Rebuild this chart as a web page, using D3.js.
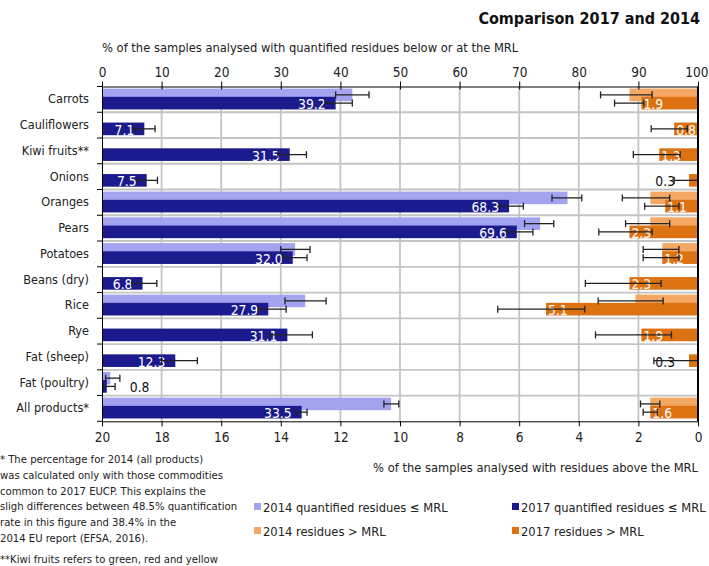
<!DOCTYPE html>
<html>
<head>
<meta charset="utf-8">
<script src="https://cdn.jsdelivr.net/npm/d3@7"></script>
<style>
  html, body { margin: 0; padding: 0; background: #fff; }
  svg { display: block; font-family: "DejaVu Sans Condensed", "DejaVu Sans", sans-serif; }
</style>
</head>
<body>
<svg id="chart" width="709" height="566"></svg>
<script>
// ---------- data ----------
const categories = ["Carrots","Cauliflowers","Kiwi fruits**","Onions","Oranges","Pears","Potatoes","Beans (dry)","Rice","Rye","Fat (sheep)","Fat (poultry)","All products*"];

// % of samples with quantified residues <= MRL
const q2014     = [42.0, null, null, null, 78.1, 73.5, 32.4, null, 34.1, null, null, 1.4, 48.5];
const q2014Low  = [39.2, null, null, null, 75.5, 70.9, 30.0, null, 30.7, null, null, 0.6, 47.3];
const q2014High = [44.8, null, null, null, 80.5, 75.8, 34.9, null, 37.6, null, null, 3.0, 49.8];
const q2017     = [39.2, 7.1, 31.5, 7.5, 68.3, 69.6, 32.0, 6.8, 27.9, 31.1, 12.3, 0.8, 33.5];
const q2017Low  = [37.4, 5.4, 29.5, 5.9, 66.7, 67.9, 30.3, 5.0, 26.2, 28.2, 10.0, 0.2, 32.6];
const q2017High = [42.0, 8.9, 34.3, 9.3, 70.7, 72.3, 34.4, 9.2, 30.9, 35.3, 16.0, 2.2, 34.4];

// % of samples with residues > MRL
const m2014     = [2.3, null, null, null, 1.6, 1.6, 1.2, null, 2.1, null, null, null, 1.6];
const m2014Low  = [1.54, null, null, null, 0.95, 0.95, 0.64, null, 1.17, null, null, null, 1.28];
const m2014High = [3.27, null, null, null, 2.54, 2.43, 1.84, null, 3.35, null, null, null, 1.93];
const m2017     = [1.9, 0.8, 1.3, 0.3, 1.1, 2.3, 1.2, 2.3, 5.1, 1.9, 0.3, null, 1.6];
const m2017Low  = [1.82, 0.36, 0.6, 0.0, 0.64, 1.54, 0.64, 1.24, 3.80, 0.89, 0.0, null, 1.37];
const m2017High = [2.80, 1.57, 2.17, 0.8, 1.79, 3.33, 1.84, 3.78, 6.72, 3.44, 1.48, null, 1.84];

const topTicks = [0,10,20,30,40,50,60,70,80,90,100];
const bottomTicks = [20,18,16,14,12,10,8,6,4,2,0];

const title = "Comparison 2017 and 2014";
const topAxisTitle = "% of the samples analysed with quantified residues below or at the MRL";
const bottomAxisTitle = "% of the samples analysed with residues above the MRL";
const legendLabels = ["2014 quantified residues \u2264 MRL","2017 quantified residues \u2264 MRL","2014 residues > MRL","2017 residues > MRL"];
const footnotes = [
  "* The percentage for 2014 (all products)",
  "was calculated only with those commodities",
  "common to 2017 EUCP. This explains the",
  "sligh differences between 48.5% quantification",
  "rate in this figure and 38.4% in the",
  "2014 EU report (EFSA, 2016)."
];
const footnote2 = "**Kiwi fruits refers to green, red and yellow";

// ---------- styling ----------
const C = { q14: "#a3a3ef", q17: "#1b1b8e", m14: "#f5a863", m17: "#dd7212" };
const FS = 12.8;
const svg = d3.select("#chart");
const L = 102, R = 698, T = 86.5, B = 421.3;

const xTop = d3.scaleLinear().domain([0,100]).range([L,R]);
const xBot = d3.scaleLinear().domain([0,20]).range([R,L]);
const y = d3.scaleBand().domain(categories).range([T,B]).padding(0);
const bw = y.bandwidth();
const yLight = c => y(c) + 0.08*bw;
const yDark  = c => y(c) + 0.40*bw;
const bh = 0.49*bw;

// title
svg.append("text").attr("x", 700).attr("y", 24).attr("text-anchor","end")
  .attr("font-size", 16).attr("font-weight","bold").attr("fill","#111").text(title);

svg.append("text").attr("x", L).attr("y", 52).attr("font-size", FS).attr("fill","#222").text(topAxisTitle);

// grid
const g = svg.append("g");
g.selectAll("line.vg").data(topTicks.slice(1,-1)).join("line")
  .attr("x1", d=>xTop(d)).attr("x2", d=>xTop(d)).attr("y1", T).attr("y2", B)
  .attr("stroke","#c4c4c4").attr("stroke-width",1.8);
g.selectAll("line.hg").data(categories.slice(1)).join("line")
  .attr("x1", L).attr("x2", R).attr("y1", d=>y(d)).attr("y2", d=>y(d))
  .attr("stroke","#c4c4c4").attr("stroke-width",1.8);

// rows
const rows = categories.map((c,i)=>({c,i}));

function bars(vals, color, yf, scale, fromRight) {
  g.append("g").selectAll("rect").data(rows.filter(r=>vals[r.i]!=null)).join("rect")
    .attr("x", r => fromRight ? scale(vals[r.i]) : scale(0))
    .attr("width", r => Math.abs(scale(vals[r.i]) - scale(0)))
    .attr("y", r => yf(r.c)).attr("height", bh)
    .attr("fill", color);
}
bars(q2014, C.q14, yLight, xTop, false);
bars(q2017, C.q17, yDark, xTop, false);
bars(m2014, C.m14, yLight, xBot, true);
bars(m2017, C.m17, yDark, xBot, true);

// labels
const lab = g.append("g").attr("font-size", 13.8);
rows.forEach(r => {
  const v = q2017[r.i];
  const yc = yDark(r.c) + bh/2 + 1;
  if (v > 3) {
    lab.append("text").attr("x", xTop(v)-10).attr("y", yc).attr("dominant-baseline","central")
      .attr("text-anchor","end").attr("fill","#fff").text(v.toFixed(1));
  } else if (v != null) {
    lab.append("text").attr("x", xTop(v)+23).attr("y", yc).attr("dominant-baseline","central")
      .attr("text-anchor","start").attr("fill","#111").text(v.toFixed(1));
  }
  const m = m2017[r.i];
  if (m != null && m >= 0.5) {
    lab.append("text").attr("x", xBot(m)+2).attr("y", yc).attr("dominant-baseline","central")
      .attr("text-anchor","start").attr("fill","#fff").text(m.toFixed(1));
  } else if (m != null) {
    lab.append("text").attr("x", xBot(m)-14).attr("y", yc).attr("dominant-baseline","central")
      .attr("text-anchor","end").attr("fill","#111").text(m.toFixed(1));
  }
});

// error bars
function errs(lo, hi, yf, scale) {
  const eg = g.append("g").attr("stroke","#222").attr("stroke-width",1.3);
  rows.filter(r=>lo[r.i]!=null).forEach(r => {
    const yc = yf(r.c) + bh/2;
    const a = scale(lo[r.i]), b = scale(hi[r.i]);
    eg.append("line").attr("x1",a).attr("x2",b).attr("y1",yc).attr("y2",yc);
    eg.append("line").attr("x1",a).attr("x2",a).attr("y1",yc-3.5).attr("y2",yc+3.5);
    eg.append("line").attr("x1",b).attr("x2",b).attr("y1",yc-3.5).attr("y2",yc+3.5);
  });
}
errs(q2014Low, q2014High, yLight, xTop);
errs(q2017Low, q2017High, yDark, xTop);
errs(m2014Low, m2014High, yLight, xBot);
errs(m2017Low, m2017High, yDark, xBot);

// axes
const axTop = svg.append("g").attr("transform",`translate(0,${T})`)
  .call(d3.axisTop(xTop).tickValues(topTicks).tickSize(5).tickSizeOuter(0).tickPadding(5));
svg.append("g").attr("transform",`translate(0,${T})`)
  .call(d3.axisTop(xTop).tickValues(topTicks).tickSize(-3).tickSizeOuter(0).tickFormat(""))
  .select(".domain").remove();
const axBot = svg.append("g").attr("transform",`translate(0,${B})`)
  .call(d3.axisBottom(xBot).tickValues(bottomTicks).tickSize(5).tickSizeOuter(0).tickPadding(6));
const axLeft = svg.append("g").attr("transform",`translate(${L},0)`)
  .call(d3.axisLeft(y).tickSize(0).tickPadding(13));
// left axis ticks at band boundaries
svg.append("g").selectAll("line").data(categories.concat(["_end"])).join("line")
  .attr("x1", L-5).attr("x2", L)
  .attr("y1", (d,i)=> T + i*bw).attr("y2",(d,i)=> T + i*bw)
  .attr("stroke","#000");
svg.append("line").attr("x1",R).attr("x2",R).attr("y1",T).attr("y2",B).attr("stroke","#000").attr("stroke-width",2);

[axTop, axBot, axLeft].forEach(a => {
  a.attr("font-family", null);
  a.selectAll("text").attr("font-size", 13.5).attr("fill","#222");
  a.select(".domain").attr("stroke","#000");
  a.selectAll(".tick line").attr("stroke","#000");
});
axLeft.selectAll("text").attr("font-size", 12.6);
axTop.selectAll(".tick:last-of-type text").attr("text-anchor","end").attr("dx", 10);

svg.append("text").attr("x", 698).attr("y", 472).attr("text-anchor","end")
  .attr("font-size", FS).attr("fill","#222").text(bottomAxisTitle);

// legend
const leg = svg.append("g").attr("font-size", FS).attr("fill","#222");
const legColors = [C.q14, C.q17, C.m14, C.m17];
const legPos = [[254,507],[512,507],[254,531],[512,531]];
legendLabels.forEach((t,i) => {
  const [lx,ly] = legPos[i];
  leg.append("rect").attr("x",lx).attr("y",ly-4).attr("width",7).attr("height",7).attr("fill",legColors[i]);
  leg.append("text").attr("x",lx+9).attr("y",ly).attr("dominant-baseline","central").text(t);
});

// footnotes
const fn = svg.append("g").attr("font-size", 11.2).attr("fill","#222");
footnotes.forEach((t,i) => {
  fn.append("text").attr("x",0).attr("y", 463 + i*15.8).text(t);
});
fn.append("text").attr("x",0).attr("y", 563).text(footnote2);
</script>
</body>
</html>
